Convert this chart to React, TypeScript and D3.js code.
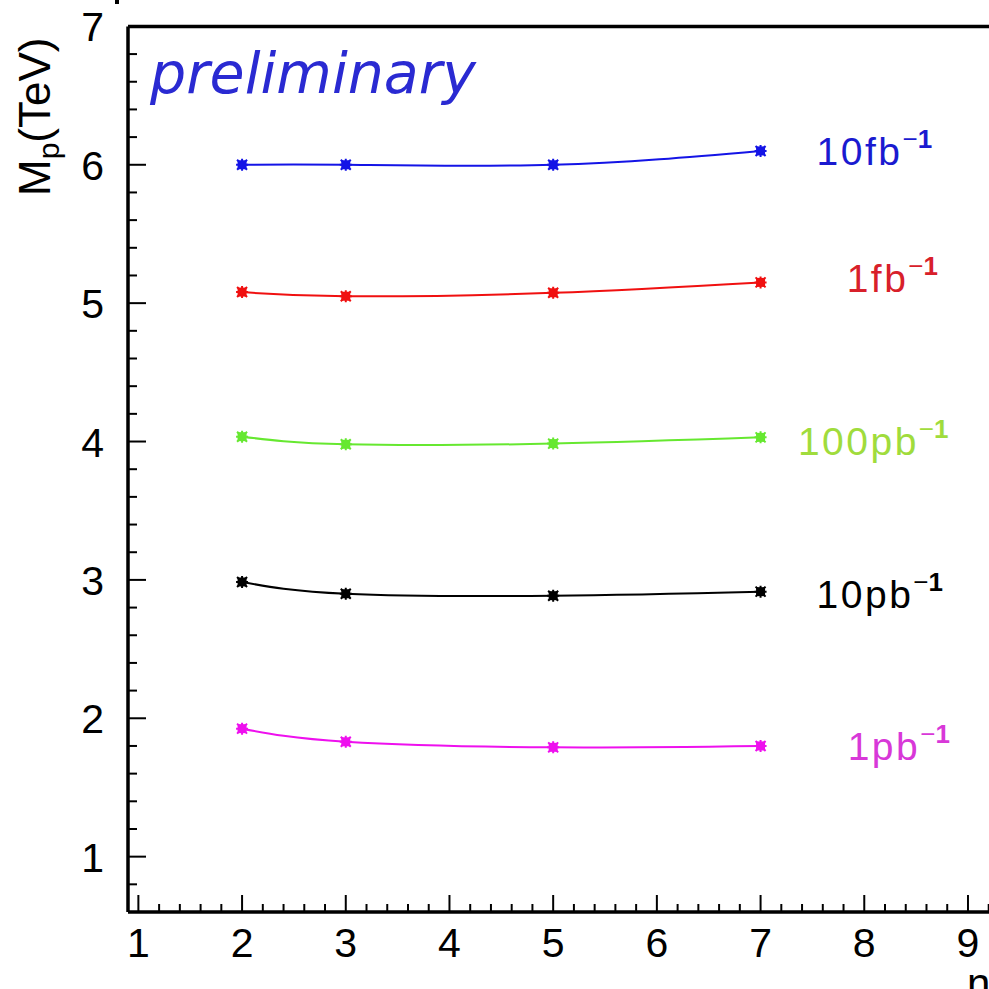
import React, { useEffect, useRef } from 'react';
import * as d3 from 'd3';

// n values (x) and M_p (TeV) for each luminosity
const nValues = [2, 3, 5, 7];
const lumi10fb = [6.0, 6.0, 6.0, 6.1];
const lumi1fb = [5.08, 5.05, 5.075, 5.15];
const lumi100pb = [4.035, 3.98, 3.985, 4.03];
const lumi10pb = [2.985, 2.9, 2.886, 2.915];
const lumi1pb = [1.925, 1.83, 1.79, 1.8];

const seriesNames = ['10fb', '1fb', '100pb', '10pb', '1pb'];
const seriesValues = [lumi10fb, lumi1fb, lumi100pb, lumi10pb, lumi1pb];
const lineColors = ['#1414e6', '#f01010', '#66e830', '#000000', '#ee10ee'];
const textColors = ['#1a1ad0', '#d8202a', '#a0dc3c', '#000000', '#d838d8'];
// label anchor positions (in data units)
const labelX = [7.54, 7.83, 7.36, 7.54, 7.84];
const labelY = [6.0, 5.083, 3.903, 2.8, 1.7];

const xTicks = [1, 2, 3, 4, 5, 6, 7, 8, 9, 10];
const yTicks = [1, 2, 3, 4, 5, 6, 7];

const App = () => {
    const ref = useRef<SVGSVGElement>(null);

    useEffect(() => {
        const svg = d3.select(ref.current);
        svg.selectAll('*').remove();

        const left = 128, top = 26.4, bottom = 912;
        const xScale = d3.scaleLinear().domain([0.9, 10.1]).range([left, left + 9.2 * 103.7]);
        const yScale = d3.scaleLinear().domain([0.6, 7]).range([bottom, top]);

        const font = "'Liberation Sans', Arial, sans-serif";

        // minor / major ticks on x
        const xMinor = d3.range(1, 10.05, 0.2);
        svg.append('g').selectAll('line').data(xMinor).join('line')
            .attr('x1', d => xScale(d)).attr('x2', d => xScale(d))
            .attr('y1', bottom).attr('y2', d => Math.abs(d - Math.round(d)) < 1e-6 ? bottom - 17 : bottom - 8)
            .attr('stroke', '#000').attr('stroke-width', 2);

        const yMinor = d3.range(0.6, 7.01, 0.2);
        svg.append('g').selectAll('line').data(yMinor).join('line')
            .attr('y1', d => yScale(d)).attr('y2', d => yScale(d))
            .attr('x1', left).attr('x2', d => Math.abs(d - Math.round(d)) < 1e-6 ? left + 18 : left + 9)
            .attr('stroke', '#000').attr('stroke-width', 2);

        // frame
        svg.append('line').attr('x1', left).attr('x2', 989).attr('y1', bottom).attr('y2', bottom)
            .attr('stroke', '#000').attr('stroke-width', 3.5);
        svg.append('line').attr('x1', left).attr('x2', left).attr('y1', top).attr('y2', bottom)
            .attr('stroke', '#000').attr('stroke-width', 3.5);
        svg.append('line').attr('x1', left).attr('x2', 989).attr('y1', top).attr('y2', top)
            .attr('stroke', '#000').attr('stroke-width', 3.5);

        // tick labels
        svg.append('g').selectAll('text').data(xTicks.filter(d => d < 10)).join('text')
            .attr('x', d => xScale(d)).attr('y', 957)
            .attr('text-anchor', 'middle').attr('font-family', font).attr('font-size', 41)
            .text(d => d);
        svg.append('g').selectAll('text').data(yTicks).join('text')
            .attr('x', 104).attr('y', d => yScale(d) + 15)
            .attr('text-anchor', 'end').attr('font-family', font).attr('font-size', 41)
            .text(d => d);

        // axis titles
        const yt = svg.append('text')
            .attr('transform', 'translate(50,196) rotate(-90)')
            .attr('font-family', font).attr('font-size', 44);
        yt.append('tspan').text('M');
        yt.append('tspan').attr('font-size', 30).attr('dy', 9).text('p');
        yt.append('tspan').attr('dy', -9).text('(TeV)');

        svg.append('text').attr('x', 967).attr('y', 998)
            .attr('font-family', font).attr('font-size', 42).text('n');
        svg.append('rect').attr('x', 115).attr('y', 0).attr('width', 4).attr('height', 4).attr('fill', '#000');

        // preliminary
        svg.append('text').attr('x', 150).attr('y', 93)
            .attr('font-family', "'DejaVu Sans', Verdana, sans-serif").attr('font-style', 'italic')
            .attr('font-size', 57).attr('fill', '#2a2ad2').text('preliminary');

        const line = d3.line<number>()
            .x((_, i) => xScale(nValues[i]))
            .y(d => yScale(d))
            .curve(d3.curveNatural);

        seriesValues.forEach((vals, si) => {
            const color = lineColors[si];
            svg.append('path').datum(vals).attr('d', line)
                .attr('fill', 'none').attr('stroke', color).attr('stroke-width', 2);

            const g = svg.append('g');
            vals.forEach((v, i) => {
                const cx = xScale(nValues[i]), cy = yScale(v);
                g.append('rect').attr('x', cx - 4.5).attr('y', cy - 4.5).attr('width', 9).attr('height', 9).attr('fill', color);
                g.append('path')
                    .attr('d', `M${cx - 6},${cy}L${cx + 6},${cy}M${cx},${cy - 6}L${cx},${cy + 6}M${cx - 5},${cy - 5}L${cx + 5},${cy + 5}M${cx - 5},${cy + 5}L${cx + 5},${cy - 5}`)
                    .attr('stroke', color).attr('stroke-width', 2);
            });

            const t = svg.append('text')
                .attr('x', xScale(labelX[si])).attr('y', yScale(labelY[si]))
                .attr('font-family', font).attr('font-size', 39).attr('letter-spacing', 2.5)
                .attr('fill', textColors[si]);
            t.append('tspan').text(seriesNames[si]);
            t.append('tspan').attr('font-size', 26).attr('dy', -17).attr('letter-spacing', 0).text('−');
            t.append('tspan').attr('font-size', 26).attr('font-weight', 'bold').attr('letter-spacing', 0).text('1');
        });
    }, []);

    return (
        <svg ref={ref} width={989} height={989}
            style={{ position: 'absolute', left: 0, top: 0, background: '#fff' }} />
    );
};

export default App;
